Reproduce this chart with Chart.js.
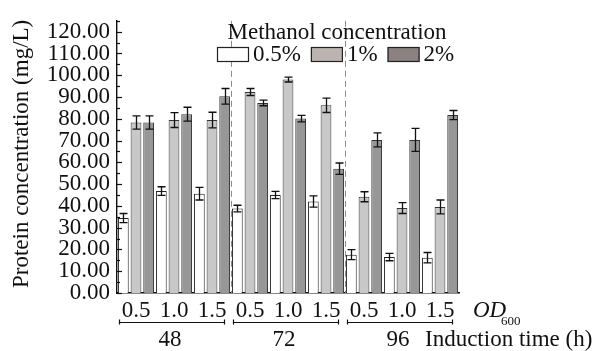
<!DOCTYPE html>
<html><head><meta charset="utf-8">
<script src="https://cdn.jsdelivr.net/npm/chart.js@4/dist/chart.umd.min.js"></script>
<style>html,body{margin:0;padding:0;background:#fff;}#wrap{width:602px;height:351px;}</style>
</head><body><div id="wrap"><canvas id="c" width="602" height="351"></canvas></div>
<script>
const odLabels = ['0.5','1.0','1.5','0.5','1.0','1.5','0.5','1.0','1.5'];
const timeGroups = ['48','72','96'];
const seriesNames = ['0.5%','1%','2%'];
const conc05 = [34.4, 46.8, 45.6, 38.8, 45.0, 42.0, 17.6, 16.5, 16.2];
const conc1  = [78.3, 79.4, 79.4, 92.3, 98.0, 86.2, 44.2, 39.0, 39.5];
const conc2  = [78.3, 82.1, 90.3, 87.3, 80.1, 57.1, 70.3, 70.3, 81.7];
const err05 = [2.1, 2.0, 2.9, 1.5, 1.7, 2.6, 2.3, 1.7, 2.4];
const err1  = [3.0, 3.4, 3.6, 1.6, 1.1, 3.3, 2.3, 2.5, 3.2];
const err2  = [3.0, 3.2, 3.6, 1.3, 1.5, 2.6, 3.2, 5.3, 2.1];
const yTicks = [0,10,20,30,40,50,60,70,80,90,100,110,120];
const yMinorTicks = [5,15,25,35,45,55,65,75,85,95,105,115,125];
const legendTitle = 'Methanol concentration';
const yTitle = 'Protein concentration (mg/L)';
const xTitleOD = 'OD';
const xTitleODSub = '600';
const xTitleTime = 'Induction time (h)';

const barFill = ['#ffffff','#c8c8c8','#979797'];
const legendFill = ['#ffffff','#bcb4b1','#8a8181'];
const errors = [err05, err1, err2];
const FONT = '"Liberation Serif", "Times New Roman", serif';

const extras = {
  id: 'extras',
  beforeDatasetsDraw(chart) {
    const ctx = chart.ctx, xs = chart.scales.x, a = chart.chartArea;
    ctx.save();
    ctx.strokeStyle = '#8c8c8c';
    ctx.lineWidth = 1;
    ctx.setLineDash([6, 4]);
    [2, 5].forEach(i => {
      const x = Math.round((xs.getPixelForValue(i) + xs.getPixelForValue(i + 1)) / 2) + 0.5;
      ctx.beginPath(); ctx.moveTo(x, a.top); ctx.lineTo(x, a.bottom); ctx.stroke();
    });
    ctx.restore();
  },
  afterDatasetsDraw(chart) {
    const ctx = chart.ctx, ys = chart.scales.y;
    ctx.save();
    ctx.strokeStyle = '#111';
    ctx.lineWidth = 1.3;
    chart.data.datasets.forEach((ds, di) => {
      const meta = chart.getDatasetMeta(di);
      meta.data.forEach((el, i) => {
        const v = ds.data[i], e = errors[di][i];
        const yt = ys.getPixelForValue(v + e), yb = ys.getPixelForValue(v - e);
        const x = Math.round(el.x) + 0.5;
        ctx.beginPath();
        ctx.moveTo(x, yt); ctx.lineTo(x, yb);
        ctx.moveTo(x - 4, yt); ctx.lineTo(x + 4, yt);
        ctx.moveTo(x - 4, yb); ctx.lineTo(x + 4, yb);
        ctx.stroke();
      });
    });
    ctx.restore();
  },
  afterDraw(chart) {
    const ctx = chart.ctx, xs = chart.scales.x, ys = chart.scales.y, a = chart.chartArea;
    ctx.save();
    ctx.strokeStyle = '#111'; ctx.lineWidth = 1.2;
    yTicks.forEach(v => { const y = Math.round(ys.getPixelForValue(v)) + 0.5; ctx.beginPath(); ctx.moveTo(a.left, y); ctx.lineTo(a.left + 5, y); ctx.stroke(); });
    yMinorTicks.forEach(v => { const y = Math.round(ys.getPixelForValue(v)) + 0.5; ctx.beginPath(); ctx.moveTo(a.left, y); ctx.lineTo(a.left + 3, y); ctx.stroke(); });
    ctx.fillStyle = '#111';
    ctx.font = '23px ' + FONT;
    ctx.textAlign = 'center'; ctx.textBaseline = 'middle';
    ctx.save(); ctx.translate(22, (a.top + a.bottom) / 2 - 3); ctx.rotate(-Math.PI / 2); ctx.fillText(yTitle, 0, 0); ctx.restore();
    const half = (xs.getPixelForValue(1) - xs.getPixelForValue(0)) / 2;
    timeGroups.forEach((g, gi) => {
      const x0 = xs.getPixelForValue(gi * 3) - half + 2;
      const x1 = xs.getPixelForValue(gi * 3 + 2) + half - 6;
      const y = 322.5;
      ctx.lineWidth = 1.2;
      ctx.beginPath(); ctx.moveTo(x0, y); ctx.lineTo(x1, y);
      ctx.moveTo(x0 + 0.5, y - 3); ctx.lineTo(x0 + 0.5, y + 2);
      ctx.moveTo(x1 - 0.5, y - 3); ctx.lineTo(x1 - 0.5, y + 2);
      ctx.stroke();
      ctx.textAlign = 'center'; ctx.textBaseline = 'middle';
      ctx.fillText(g, (x0 + x1) / 2 - 2, 340);
    });
    ctx.textAlign = 'left';
    ctx.fillText(xTitleTime, 425, 340);
    ctx.font = 'italic 23px ' + FONT;
    ctx.fillText(xTitleOD, 473, 311);
    ctx.font = '13px ' + FONT;
    ctx.fillText(xTitleODSub, 501, 322);
    ctx.font = '23px ' + FONT;
    ctx.textAlign = 'center';
    ctx.fillText(legendTitle, 337, 33);
    let x = 217;
    ctx.textAlign = 'left';
    seriesNames.forEach((n, i) => {
      ctx.fillStyle = legendFill[i];
      ctx.fillRect(x, 47, 32, 15);
      ctx.strokeStyle = '#222'; ctx.lineWidth = 1.2;
      ctx.strokeRect(x + 0.5, 47.5, 31, 14);
      x += 36;
      ctx.fillStyle = '#111';
      ctx.fillText(n, x, 55);
      x += ctx.measureText(n).width + 10;
    });
    ctx.restore();
  }
};

Chart.defaults.font.family = FONT;
Chart.defaults.color = '#111';

new Chart(document.getElementById('c'), {
  type: 'bar',
  data: {
    labels: odLabels,
    datasets: [
      { label: seriesNames[0], data: conc05, backgroundColor: barFill[0], borderColor: '#222', borderWidth: 1 },
      { label: seriesNames[1], data: conc1, backgroundColor: barFill[1], borderColor: '#333', borderWidth: 1 },
      { label: seriesNames[2], data: conc2, backgroundColor: barFill[2], borderColor: '#333', borderWidth: 1 }
    ]
  },
  options: {
    responsive: false,
    animation: false,
    devicePixelRatio: 1,
    datasets: { bar: { categoryPercentage: 1, barPercentage: 0.85 } },
    layout: { padding: { top: 17, right: 143, left: 0, bottom: 0 } },
    plugins: { legend: { display: false }, tooltip: { enabled: false } },
    scales: {
      x: {
        grid: { display: false, drawTicks: false },
        border: { display: true, color: '#111', width: 1.4 },
        ticks: { font: { size: 23 }, color: '#111', padding: 4, maxRotation: 0, autoSkip: false },
        afterFit(s) { s.height = 58; }
      },
      y: {
        min: 0, max: 125,
        grid: { display: false, drawTicks: false },
        border: { display: true, color: '#111', width: 1.4 },
        afterBuildTicks(s) { s.ticks = yTicks.map(v => ({ value: v })); },
        ticks: { font: { size: 23 }, color: '#111', padding: 7, autoSkip: false, callback: v => Number(v).toFixed(2) },
        afterFit(s) { s.width = 117; }
      }
    }
  },
  plugins: [extras]
});
</script></body></html>
